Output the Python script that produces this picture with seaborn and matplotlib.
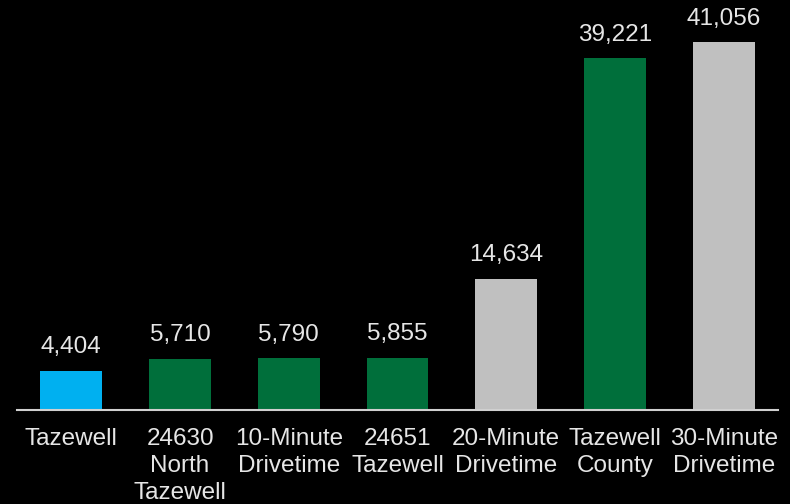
import matplotlib
matplotlib.use("Agg")
import matplotlib.pyplot as plt
import seaborn as sns
import pandas as pd

categories = ["Tazewell", "24630\nNorth\nTazewell", "10-Minute\nDrivetime", "24651\nTazewell",
              "20-Minute\nDrivetime", "Tazewell\nCounty", "30-Minute\nDrivetime"]
values = [4404, 5710, 5790, 5855, 14634, 39221, 41056]
bar_colors = ["#00B0F0", "#006F3B", "#006F3B", "#006F3B", "#C0C0C0", "#006F3B", "#C0C0C0"]

sns.set_style("dark")
plt.rcParams['font.family'] = ['Liberation Sans', 'DejaVu Sans']

df = pd.DataFrame({"cat": categories, "val": values})

fig = plt.figure(figsize=(7.9, 5.04), dpi=100, facecolor="black")
ax = fig.add_axes([17/790, 94/504, 761/790, 403.4/504])
ax.set_facecolor("black")

sns.barplot(data=df, x="cat", y="val", hue="cat", palette=bar_colors, order=categories,
            hue_order=categories, width=0.57, legend=False, ax=ax, saturation=1,
            linewidth=0, edgecolor="none")

ax.set_xlim(-0.5, 6.5)
ax.set_ylim(0, 45000)
ax.set_xlabel("")
ax.set_ylabel("")
ax.set_yticks([])
ax.grid(False)
for s in ["top", "right", "left"]:
    ax.spines[s].set_visible(False)
ax.spines["bottom"].set_color("#D0D0D0")
ax.spines["bottom"].set_linewidth(1.5)
ax.tick_params(axis="x", length=0, pad=13, colors="#E6E6E6", labelsize=17.5)
for t in ax.get_xticklabels():
    t.set_linespacing(1.28)

for i, v in enumerate(values):
    ax.annotate(f"{v:,}", (i, v), xytext=(0, 12.5), textcoords="offset points",
                ha="center", va="baseline", color="#E6E6E6", fontsize=17.5)

fig.savefig("out.png", dpi=100, facecolor="black")
